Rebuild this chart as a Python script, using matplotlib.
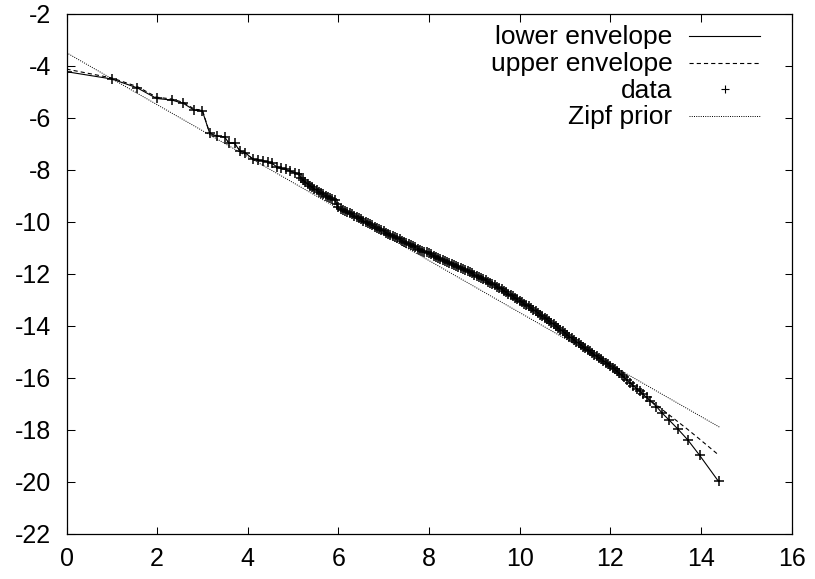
import matplotlib
matplotlib.use("Agg")
import matplotlib.pyplot as plt
from matplotlib.lines import Line2D

plt.rcParams['font.family'] = ['Liberation Sans', 'DejaVu Sans']
plt.rcParams['axes.unicode_minus'] = False
plt.rcParams['lines.scale_dashes'] = False

# ---- data ----
data_x = [0.00, 1.00, 1.56, 1.99, 2.32, 2.58, 2.82, 3.00, 3.16, 3.33, 3.49, 3.58, 3.71, 3.83, 3.94,
          4.12, 4.23, 4.34, 4.44, 4.54, 4.64, 4.73, 4.84, 4.94, 5.05, 5.12,
          5.17, 5.22, 5.27, 5.32, 5.37, 5.42, 5.47, 5.52, 5.57, 5.62, 5.67, 5.72, 5.77, 5.82, 5.87,
          5.92, 5.96, 6.00, 6.05, 6.10, 6.15, 6.20, 6.25, 6.30, 6.35, 6.40, 6.45, 6.50, 6.55,
          6.60, 6.65, 6.70, 6.75, 6.80, 6.85, 6.90, 6.95, 7.00, 7.05, 7.10, 7.15, 7.20, 7.25,
          7.30, 7.35, 7.40, 7.45, 7.50, 7.55, 7.60, 7.65, 7.70, 7.75, 7.80, 7.85, 7.90, 7.95,
          8.00, 8.05, 8.10, 8.15, 8.20, 8.25, 8.30, 8.35, 8.40, 8.45, 8.50, 8.55, 8.60, 8.65,
          8.70, 8.75, 8.80, 8.85, 8.90, 8.95, 9.00, 9.05, 9.10, 9.15, 9.20, 9.25, 9.30, 9.35,
          9.40, 9.45, 9.50, 9.55, 9.60, 9.65, 9.70, 9.75, 9.80, 9.85, 9.90, 9.95, 10.00, 10.05,
          10.10, 10.15, 10.20, 10.25, 10.30, 10.35, 10.40, 10.45, 10.50, 10.55, 10.60, 10.65,
          10.70, 10.75, 10.80, 10.85, 10.90, 10.95, 11.00, 11.05, 11.10, 11.15, 11.20, 11.25,
          11.30, 11.35, 11.40, 11.45, 11.50, 11.55, 11.60, 11.65, 11.70, 11.75, 11.80, 11.85,
          11.90, 11.95, 12.00, 12.05, 12.10, 12.15, 12.20, 12.25, 12.30, 12.37, 12.44, 12.51,
          12.58, 12.65, 12.72, 12.80, 12.88, 13.02, 13.15, 13.30, 13.49, 13.71, 13.97, 14.39]
data_y = [-4.23, -4.51, -4.85, -5.26, -5.32, -5.45, -5.71, -5.75, -6.60, -6.71, -6.74, -6.97, -6.99, -7.28, -7.34,
          -7.60, -7.63, -7.66, -7.70, -7.76, -7.89, -7.95, -7.99, -8.06, -8.12, -8.17,
          -8.30, -8.40, -8.47, -8.55, -8.62, -8.68, -8.74, -8.79, -8.85, -8.90, -8.95, -9.00, -9.04, -9.08, -9.13,
          -9.18, -9.30, -9.45, -9.50, -9.54, -9.59, -9.63, -9.68, -9.72, -9.77, -9.81, -9.86, -9.91, -9.96,
          -10.01, -10.05, -10.10, -10.14, -10.19, -10.24, -10.28, -10.33, -10.37, -10.42, -10.46, -10.51, -10.55, -10.60,
          -10.64, -10.68, -10.73, -10.77, -10.82, -10.86, -10.90, -10.94, -10.99, -11.03, -11.07, -11.11, -11.15, -11.18,
          -11.22, -11.26, -11.30, -11.34, -11.38, -11.42, -11.46, -11.50, -11.54, -11.57, -11.61, -11.65, -11.69, -11.73,
          -11.77, -11.81, -11.85, -11.90, -11.94, -11.99, -12.03, -12.08, -12.13, -12.17, -12.22, -12.26, -12.31, -12.36,
          -12.41, -12.45, -12.50, -12.55, -12.60, -12.66, -12.71, -12.77, -12.82, -12.87, -12.93, -12.98, -13.04, -13.09,
          -13.15, -13.21, -13.26, -13.32, -13.38, -13.44, -13.50, -13.57, -13.63, -13.69, -13.75, -13.82,
          -13.88, -13.95, -14.01, -14.08, -14.15, -14.21, -14.28, -14.35, -14.42, -14.48, -14.55, -14.61,
          -14.68, -14.74, -14.80, -14.87, -14.93, -14.99, -15.05, -15.11, -15.17, -15.23, -15.29, -15.35,
          -15.42, -15.48, -15.55, -15.61, -15.68, -15.76, -15.83, -15.91, -15.98, -16.09, -16.20, -16.31,
          -16.42, -16.52, -16.63, -16.76, -16.88, -17.11, -17.37, -17.63, -17.97, -18.39, -18.98, -19.99]

# upper envelope: differs from the data at the head and at the tail
upper_head_x = [0.00, 1.00, 1.56, 1.99, 2.32, 2.58, 2.82, 3.00]
upper_head_y = [-4.13, -4.47, -4.80, -5.21, -5.28, -5.41, -5.67, -5.71]
upper_tail_x = [13.02, 13.15, 13.30, 13.49, 13.71, 13.97, 14.39]
upper_tail_y = [-17.05, -17.23, -17.43, -17.69, -17.99, -18.36, -18.97]

zipf_x = [0.0, 14.41]
zipf_y = [-3.50, -17.90]

x_ticks = [0, 2, 4, 6, 8, 10, 12, 14, 16]
y_ticks = [-22, -20, -18, -16, -14, -12, -10, -8, -6, -4, -2]
legend_labels = ["lower envelope", "upper envelope", "data", "Zipf prior"]

n_head = len(upper_head_x)
n_tail = len(upper_tail_x)
upper_x = upper_head_x + data_x[n_head:len(data_x) - n_tail] + upper_tail_x
upper_y = upper_head_y + data_y[n_head:len(data_y) - n_tail] + upper_tail_y

# ---- figure ----
fig = plt.figure(figsize=(8.15, 5.79), dpi=100)
ax = fig.add_axes([0.0816, 0.0782, 0.9712 - 0.0816, 0.9763 - 0.0782])

lw = 0.8
dot_style = dict(color='black', linewidth=0.7, linestyle=(0, (0.72, 0.9)))
dash_style = dict(color='black', linewidth=lw, linestyle=(0, (3.0, 2.2)))
solid_style = dict(color='black', linewidth=lw, linestyle='-')
mark_style = dict(color='black', linestyle='none', marker='+', markersize=7.5, markeredgewidth=1.1)

ax.plot(zipf_x, zipf_y, **dot_style)
ax.plot(upper_x, upper_y, **dash_style)
ax.plot(data_x, data_y, **solid_style)
ax.plot(data_x, data_y, **mark_style)

ax.set_xlim(0, 16)
ax.set_ylim(-22, -2)
ax.set_xticks(x_ticks)
ax.set_yticks(y_ticks)
ax.set_xticklabels([str(t) for t in x_ticks])
ax.set_yticklabels([str(t) for t in y_ticks])
ax.tick_params(axis='both', which='major', direction='in', length=5.4, width=0.75,
               top=True, right=True, labelsize=18, colors='black')
ax.tick_params(axis='x', pad=9.5)
ax.tick_params(axis='y', pad=11)
for s in ax.spines.values():
    s.set_linewidth(0.9)
    s.set_color('black')

# ---- manual gnuplot-style legend (text right-aligned, sample to the right) ----
styles = [solid_style, dash_style, None, dot_style]
row_y = [0.958, 0.906, 0.855, 0.804]
text_x = 0.836
line_x0, line_x1 = 0.859, 0.957
for lab, st, yy in zip(legend_labels, styles, row_y):
    ax.text(text_x, yy - 0.017, lab, transform=ax.transAxes, ha='right', va='baseline',
            fontsize=19, color='black')
    if st is None:
        ms = dict(mark_style)
        ms['markersize'] = 6.0
        ms['markeredgewidth'] = 0.8
        ax.add_line(Line2D([(line_x0 + line_x1) / 2], [yy], transform=ax.transAxes, **ms))
    else:
        ax.add_line(Line2D([line_x0, line_x1], [yy, yy], transform=ax.transAxes, **st))

fig.savefig("out.png", dpi=100)
